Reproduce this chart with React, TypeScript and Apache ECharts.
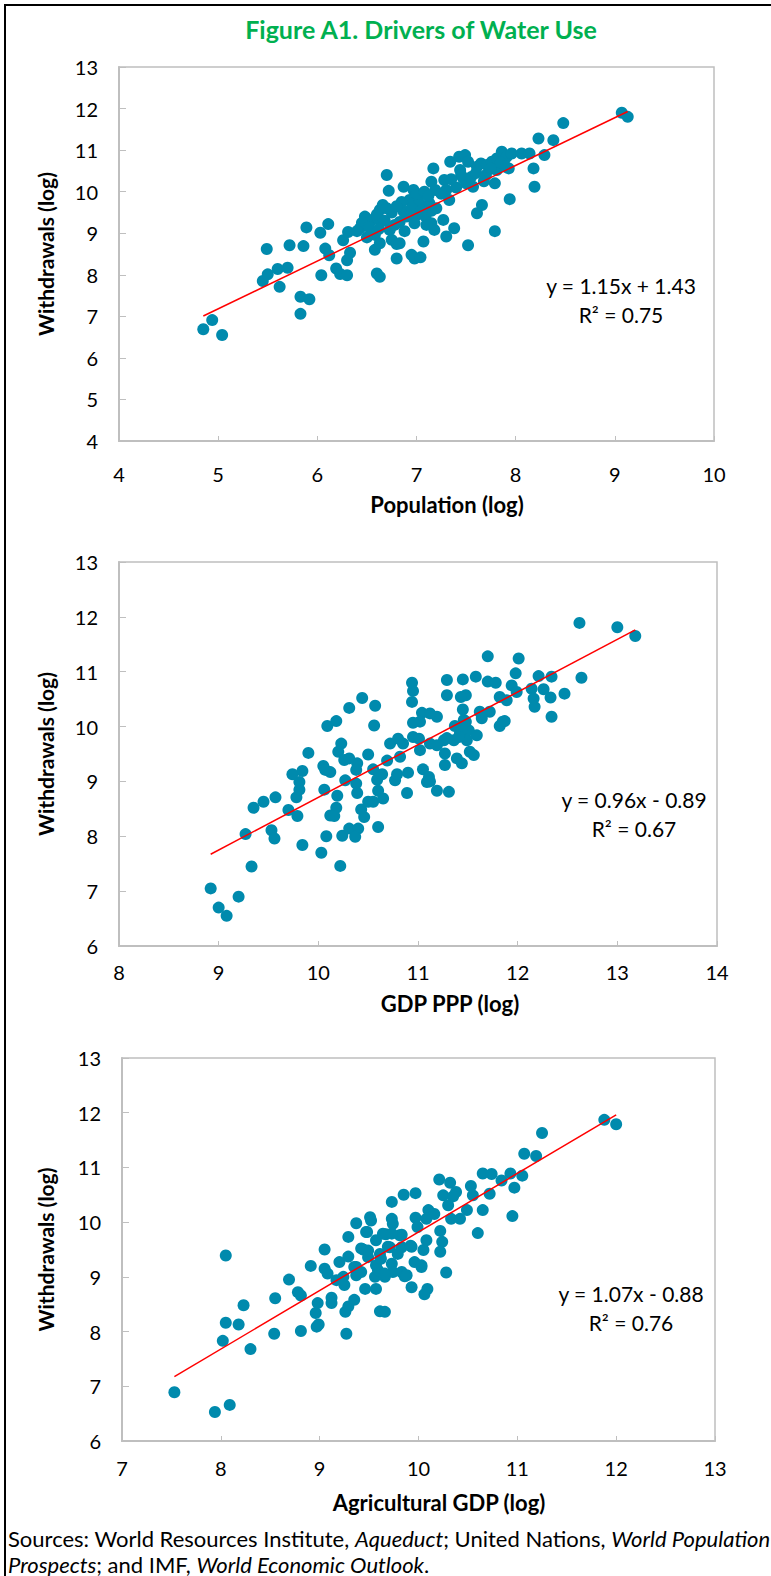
import React, { useEffect, useRef } from "react";
import * as echarts from "echarts";

// Log water withdrawals against log population
const populationPoints: number[][] = [
  [4.85, 6.69], [4.94, 6.91], [5.04, 6.55],
  [5.45, 7.85], [5.5, 8.01], [5.6, 8.14], [5.7, 8.17], [5.62, 7.71], [5.49, 8.62], [5.72, 8.71], [5.86, 8.69], [5.89, 9.14],
  [5.83, 7.47], [5.92, 7.41], [5.83, 7.06],
  [6.03, 9.01], [6.11, 9.22], [6.08, 8.63], [6.12, 8.47], [6.04, 7.99], [6.19, 8.15], [6.23, 8.02], [6.3, 7.99], [6.3, 8.35],
  [6.33, 8.53], [6.26, 8.83], [6.31, 9.03], [6.43, 9.12], [6.48, 9.4], [6.55, 9.32], [6.61, 9.36], [6.63, 9.56], [6.66, 9.68],
  [6.58, 8.96], [6.58, 8.6], [6.63, 8.76], [6.6, 8.03], [6.63, 7.95], [6.7, 10.4], [6.72, 10.02], [6.73, 9.08], [6.75, 8.84],
  [6.8, 8.74], [6.83, 8.76], [6.8, 8.39], [6.83, 9.27], [6.87, 9.52], [6.87, 10.12], [6.93, 9.8], [6.97, 10.04], [7.02, 9.88],
  [7.03, 9.72], [7.0, 9.44], [6.98, 9.24], [6.95, 8.48], [6.98, 8.39], [7.04, 8.42], [7.07, 8.8], [7.09, 9.4], [7.13, 9.72],
  [7.15, 9.54], [7.15, 9.24], [7.18, 9.08], [7.15, 10.24], [7.17, 10.56], [7.19, 10.04], [7.28, 10.28], [7.3, 10.04], [7.33, 9.8],
  [7.27, 9.32], [7.3, 8.92], [7.38, 9.12], [7.34, 10.72], [7.43, 10.84], [7.49, 10.88], [7.52, 10.72], [7.44, 10.52], [7.47, 10.32],
  [7.5, 10.2], [7.57, 10.12], [7.61, 10.6], [7.65, 10.68], [7.71, 10.64], [7.76, 10.72], [7.81, 10.8], [7.86, 10.96], [7.91, 10.84],
  [7.96, 10.92], [7.81, 10.52], [7.79, 10.2], [7.66, 9.68], [7.61, 9.48], [7.52, 8.71], [7.79, 9.05], [7.94, 9.82], [7.93, 10.56],
  [8.06, 10.92], [8.14, 10.92], [8.18, 10.56], [8.19, 10.12], [8.23, 11.28], [8.29, 10.88], [8.38, 11.24], [8.48, 11.65],
  [9.07, 11.9], [9.13, 11.8],
  [6.45, 9.25], [6.52, 9.15], [6.6, 9.45], [6.68, 9.3], [6.75, 9.5], [6.78, 9.2], [6.9, 9.4], [6.95, 9.6], [7.05, 9.55], [7.1, 9.2],
  [6.88, 9.05], [6.7, 9.6], [6.85, 9.75], [7.0, 9.95], [7.08, 10.0], [6.4, 9.05], [6.5, 8.9], [6.62, 9.1], [7.2, 9.6], [7.25, 9.95],
  [7.4, 10.1], [7.45, 10.4], [7.55, 10.35], [7.6, 10.45], [7.7, 10.4], [7.75, 10.55], [7.85, 10.7], [7.9, 10.6], [7.68, 10.25],
  [7.35, 10.3], [7.12, 9.9], [6.8, 9.65],
];

// Log water withdrawals against log GDP at purchasing-power parity
const gdpPoints: number[][] = [
  [8.92, 7.05], [9.0, 6.7], [9.08, 6.55], [9.2, 6.9], [9.33, 7.45],
  [9.27, 8.04], [9.35, 8.52], [9.45, 8.63], [9.57, 8.71], [9.53, 8.11], [9.56, 7.96], [9.7, 8.48], [9.79, 8.37], [9.78, 8.71],
  [9.81, 8.85], [9.81, 8.99], [9.74, 9.13], [9.84, 9.19], [9.9, 9.52], [9.84, 7.84], [10.03, 7.7], [10.08, 8.0], [10.06, 8.85],
  [10.05, 9.28], [10.12, 9.17], [10.07, 9.21], [10.09, 10.01], [10.18, 10.1], [10.31, 10.34], [10.44, 10.52], [10.57, 10.38],
  [10.56, 10.02], [10.23, 9.69], [10.2, 9.54], [10.26, 9.39], [10.31, 9.42], [10.39, 9.33], [10.38, 9.21], [10.27, 9.02],
  [10.38, 8.96], [10.39, 8.79], [10.19, 8.74], [10.18, 8.52], [10.12, 8.38], [10.16, 8.37], [10.43, 8.49], [10.46, 8.35],
  [10.5, 8.63], [10.55, 8.63], [10.24, 8.01], [10.31, 8.14], [10.4, 8.14], [10.37, 7.99], [10.6, 8.17], [10.22, 7.46],
  [10.5, 9.49], [10.55, 9.22], [10.59, 9.03], [10.6, 8.83], [10.65, 8.69], [10.64, 9.13], [10.69, 9.38], [10.72, 9.69],
  [10.8, 9.78], [10.85, 9.69], [10.77, 9.02], [10.79, 9.13], [10.9, 9.16], [10.89, 8.79], [10.94, 10.8], [10.95, 10.65],
  [10.94, 10.45], [11.04, 10.25], [11.02, 10.09], [10.95, 10.07], [10.95, 9.81], [11.01, 9.78], [11.02, 9.57], [11.05, 9.22],
  [11.09, 8.99], [11.12, 9.69],
  [11.29, 10.85], [11.29, 10.57], [11.45, 10.86], [11.58, 10.91], [11.48, 10.57], [11.43, 10.54], [11.45, 10.31], [11.7, 10.82],
  [11.78, 10.8], [11.7, 11.28], [12.01, 11.24], [11.98, 10.97], [11.94, 10.75], [11.99, 10.63], [11.82, 10.54], [11.89, 10.48],
  [12.21, 10.92], [12.34, 10.91], [12.14, 10.69], [12.26, 10.68], [12.16, 10.51], [12.17, 10.36], [12.33, 10.53], [12.47, 10.6],
  [12.34, 10.18], [11.62, 10.27], [11.72, 10.27], [11.64, 10.15], [11.85, 10.09], [11.82, 10.01], [11.46, 10.12], [11.37, 10.01],
  [11.42, 9.87], [11.51, 9.93], [11.59, 9.84], [11.49, 9.75], [11.36, 9.75], [11.26, 9.75], [11.39, 9.42], [11.44, 9.33],
  [11.52, 9.54], [11.56, 9.48], [11.27, 9.51], [11.27, 9.3], [11.19, 10.18], [11.19, 9.66], [11.19, 8.83], [11.31, 8.81],
  [11.11, 9.08], [11.12, 9.0],
  [12.62, 11.89], [13.0, 11.81], [13.18, 11.65], [12.64, 10.89],
  [11.12, 10.24], [11.48, 10.09], [11.44, 9.95], [11.41, 9.81], [11.29, 9.79], [10.82, 9.45], [11.87, 10.1],
];

// Log water withdrawals against log agricultural GDP
const agriculturePoints: number[][] = [
  [7.53, 6.89], [7.94, 6.53], [8.09, 6.66], [8.05, 9.39], [8.02, 7.83], [8.05, 8.16], [8.18, 8.13], [8.23, 8.48], [8.3, 7.68],
  [8.54, 7.96], [8.55, 8.61], [8.69, 8.95], [8.78, 8.72], [8.81, 8.66], [8.81, 8.01], [8.91, 9.2], [8.96, 8.34], [8.98, 8.52],
  [8.97, 8.09], [8.99, 8.13], [9.05, 9.5], [9.05, 9.15], [9.08, 9.06], [9.12, 8.62], [9.12, 8.52], [9.17, 8.94], [9.2, 9.27],
  [9.24, 9.0], [9.25, 8.85], [9.29, 9.37], [9.26, 8.36], [9.29, 8.46], [9.27, 7.96], [9.29, 9.73], [9.35, 8.58], [9.37, 9.18],
  [9.37, 9.03], [9.42, 9.09], [9.37, 9.98], [9.44, 9.5], [9.46, 8.78], [9.49, 9.36], [9.51, 10.09], [9.48, 9.82], [9.57, 9.67],
  [9.57, 8.78], [9.56, 9.0], [9.59, 9.12], [9.61, 8.37], [9.66, 8.36], [9.61, 9.42], [9.66, 9.0], [9.67, 9.78], [9.73, 10.37],
  [9.73, 10.06], [9.74, 9.97], [9.71, 9.54], [9.73, 9.24], [9.74, 9.09], [9.81, 9.76], [9.79, 9.42], [9.83, 9.09], [9.86, 9.01],
  [9.85, 10.5], [9.97, 10.53], [9.93, 9.55], [9.93, 8.81], [9.97, 10.08], [9.99, 9.91], [9.96, 9.27], [10.03, 9.21], [10.05, 9.49],
  [10.06, 8.68], [10.08, 9.67], [10.1, 10.22],
  [10.21, 10.78], [10.32, 10.72], [10.38, 10.55], [10.25, 10.49], [10.35, 10.47], [10.3, 10.31], [10.33, 10.06], [10.42, 10.06],
  [10.16, 10.15], [10.08, 10.06], [10.22, 9.84], [10.24, 9.64], [10.22, 9.46], [10.28, 9.08], [10.53, 10.66], [10.55, 10.49],
  [10.49, 10.22], [10.65, 10.22], [10.6, 9.8], [10.65, 10.89], [10.74, 10.88], [10.72, 10.52], [10.84, 10.76], [10.93, 10.89],
  [11.05, 10.85], [10.97, 10.63], [10.95, 10.11], [11.07, 11.25], [11.19, 11.21], [11.25, 11.63], [11.88, 11.87], [12.0, 11.79],
  [10.09, 8.78], [9.83, 9.77], [9.83, 9.54], [9.92, 9.57],
  [9.57, 9.21], [9.62, 9.33], [9.66, 9.06], [9.69, 9.55], [9.64, 9.79], [9.73, 9.79], [9.88, 9.03], [10.03, 9.18], [9.49, 9.48],
  [9.42, 9.52], [9.35, 9.18], [9.52, 10.03], [9.47, 9.82],
];

// Fitted lines as reported on each panel
const populationFit = { slope: 1.15, intercept: 1.43, r2: 0.75 };
const gdpFit = { slope: 0.96, intercept: -0.89, r2: 0.67 };
const agricultureFit = { slope: 1.07, intercept: -0.88, r2: 0.76 };

const xAxisTitles = ["Population (log)", "GDP PPP (log)", "Agricultural GDP (log)"];
const yAxisTitle = "Withdrawals (log)";
const xRanges = [[4, 10], [8, 14], [7, 13]];
const yRanges = [[4, 13], [6, 13], [6, 13]];

const FONT = "Lato, 'Open Sans', sans-serif";
const DOT = "#008aad";
const AXIS_GREY = "#bfbfbf";

function fmt(v: number) {
  return v.toFixed(2);
}

function equationText(fit: { slope: number; intercept: number }) {
  const sign = fit.intercept < 0 ? "-" : "+";
  return `y = ${fmt(fit.slope)}x ${sign} ${fmt(Math.abs(fit.intercept))}`;
}

function trendLine(points: number[][], fit: { slope: number; intercept: number }) {
  const xs = points.map((p) => p[0]);
  const lo = Math.min(...xs);
  const hi = Math.max(...xs);
  return [
    [lo, fit.slope * lo + fit.intercept],
    [hi, fit.slope * hi + fit.intercept],
  ];
}

export default function App() {
  const ref = useRef<HTMLDivElement>(null);

  useEffect(() => {
    if (!ref.current) return;
    const chart = echarts.init(ref.current, undefined, { renderer: "svg" });

    const panels = [
      { points: populationPoints, fit: populationFit, grid: { left: 119, top: 67, width: 595, height: 374 }, labelMargin: 23, title: [447, 504], eq: [621, 285] },
      { points: gdpPoints, fit: gdpFit, grid: { left: 119, top: 562, width: 598, height: 384 }, labelMargin: 16, title: [450, 1003], eq: [634, 799] },
      { points: agriculturePoints, fit: agricultureFit, grid: { left: 122, top: 1058, width: 593, height: 383 }, labelMargin: 17, title: [439, 1502], eq: [631, 1293] },
    ];

    const grids = panels.map((p) => ({
      ...p.grid,
      show: true,
      borderColor: AXIS_GREY,
      borderWidth: 1.5,
      backgroundColor: "#fff",
    }));

    const xAxes = panels.map((p, i) => ({
      type: "value",
      gridIndex: i,
      min: xRanges[i][0],
      max: xRanges[i][1],
      interval: 1,
      axisLine: { show: true, onZero: false, lineStyle: { color: AXIS_GREY, width: 2 } },
      axisTick: { show: true, inside: true, length: 5, lineStyle: { color: AXIS_GREY, width: 1 } },
      splitLine: { show: false },
      axisLabel: { color: "#000", fontSize: 20, fontFamily: FONT, margin: p.labelMargin },
    }));

    const yAxes = panels.map((p, i) => ({
      type: "value",
      gridIndex: i,
      min: yRanges[i][0],
      max: yRanges[i][1],
      interval: 1,
      axisLine: { show: true, onZero: false, lineStyle: { color: AXIS_GREY, width: 2 } },
      axisTick: { show: true, inside: true, length: 7, lineStyle: { color: AXIS_GREY, width: 1 } },
      splitLine: { show: false },
      axisLabel: { color: "#000", fontSize: 20, fontFamily: FONT, margin: 21 },
    }));

    const series: any[] = [];
    panels.forEach((p, i) => {
      series.push({
        type: "scatter",
        xAxisIndex: i,
        yAxisIndex: i,
        data: p.points,
        symbol: "circle",
        symbolSize: 12,
        itemStyle: { color: DOT, opacity: 1 },
        z: 2,
      });
      series.push({
        type: "line",
        xAxisIndex: i,
        yAxisIndex: i,
        data: trendLine(p.points, p.fit),
        showSymbol: false,
        symbol: "none",
        lineStyle: { color: "#ff0000", width: 1.5 },
        z: 3,
      });
    });

    const sourceRich = {
      n: { fontSize: 22, fontFamily: FONT, fill: "#000" },
      i: { fontSize: 22, fontFamily: FONT, fill: "#000", fontStyle: "italic" },
    };

    const graphics: any[] = [
      {
        type: "rect",
        shape: { x: 5, y: 5, width: 900, height: 1700 },
        style: { fill: "none", stroke: "#000", lineWidth: 2 },
        silent: true,
      },
      {
        type: "text",
        x: 421,
        y: 29,
        style: {
          text: "Figure A1. Drivers of Water Use",
          fill: "#00b050",
          fontSize: 25,
          fontWeight: "bold",
          fontFamily: FONT,
          textAlign: "center",
          textVerticalAlign: "middle",
        },
      },
      {
        type: "text",
        x: 8,
        y: 1538,
        style: {
          text: "{n|Sources: World Resources Institute, }{i|Aqueduct}{n|; United Nations, }{i|World Population}",
          rich: sourceRich,
          textAlign: "left",
          textVerticalAlign: "middle",
        },
      },
      {
        type: "text",
        x: 8,
        y: 1564,
        style: {
          text: "{i|Prospects}{n|; and IMF, }{i|World Economic Outlook}{n|.}",
          rich: sourceRich,
          textAlign: "left",
          textVerticalAlign: "middle",
        },
      },
    ];

    panels.forEach((p, i) => {
      const cy = p.grid.top + p.grid.height / 2;
      graphics.push({
        type: "text",
        x: p.title[0],
        y: p.title[1],
        style: {
          text: xAxisTitles[i],
          fill: "#000",
          fontSize: 22,
          fontWeight: "bold",
          fontFamily: FONT,
          textAlign: "center",
          textVerticalAlign: "middle",
        },
      });
      graphics.push({
        type: "text",
        x: 45,
        y: cy,
        rotation: Math.PI / 2,
        style: {
          text: yAxisTitle,
          fill: "#000",
          fontSize: 21,
          fontWeight: "bold",
          fontFamily: FONT,
          textAlign: "center",
          textVerticalAlign: "middle",
        },
      });
      graphics.push({
        type: "text",
        x: p.eq[0],
        y: p.eq[1],
        style: {
          text: equationText(p.fit),
          fill: "#000",
          fontSize: 21,
          fontFamily: FONT,
          textAlign: "center",
          textVerticalAlign: "middle",
        },
      });
      graphics.push({
        type: "text",
        x: p.eq[0],
        y: p.eq[1] + 29,
        style: {
          text: "R² = " + fmt(p.fit.r2),
          fill: "#000",
          fontSize: 21,
          fontFamily: FONT,
          textAlign: "center",
          textVerticalAlign: "middle",
        },
      });
    });

    chart.setOption({
      animation: false,
      backgroundColor: "#fff",
      grid: grids,
      xAxis: xAxes,
      yAxis: yAxes,
      series,
      graphic: graphics,
    });

    return () => chart.dispose();
  }, []);

  return (
    <div style={{ position: "absolute", left: 0, top: 0, width: 771, height: 1576, background: "#fff" }}>
      <div ref={ref} style={{ width: 771, height: 1576 }} />
    </div>
  );
}
